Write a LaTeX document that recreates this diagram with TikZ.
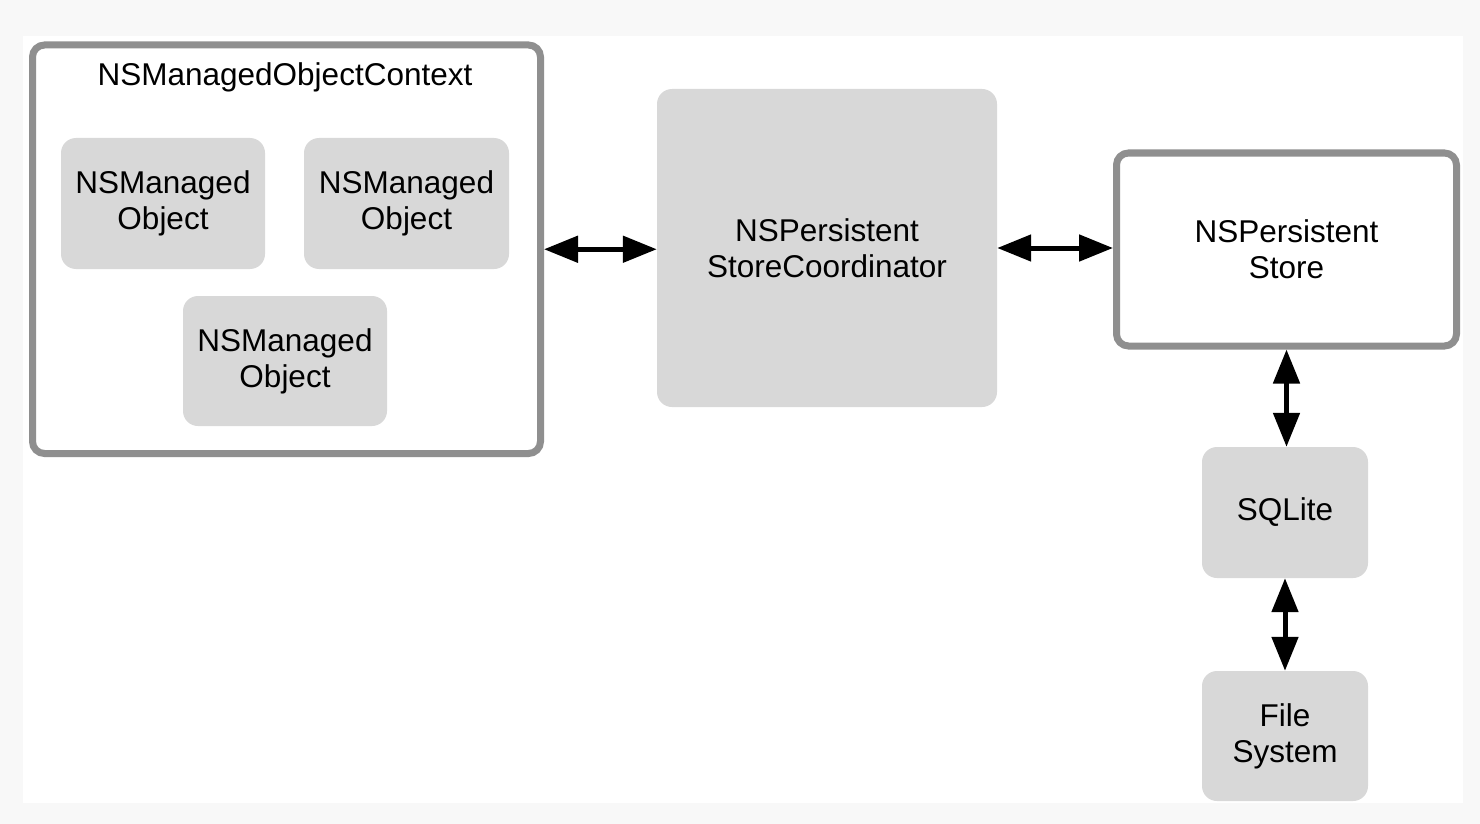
\documentclass[tikz,border=0pt]{standalone}
\usepackage{fontspec}
\setmainfont{Liberation Sans}
\usetikzlibrary{arrows.meta}
\definecolor{boxgray}{HTML}{D8D8D8}
\definecolor{bordergray}{HTML}{8F8F8F}
\definecolor{bggray}{HTML}{F8F8F8}
\tikzset{
  txt/.style={font=\fontsize{31.5}{36}\selectfont, align=center, text=black},
  graybox/.style={txt, rectangle, fill=boxgray, draw=none, rounded corners=15pt, inner sep=0pt},
  framebox/.style={txt, rectangle, fill=white, draw=bordergray, line width=7pt, rounded corners=12pt, inner sep=0pt},
  arr/.style={line width=5pt, {Triangle[length=34pt,width=26pt]}-{Triangle[length=34pt,width=26pt]}}
}
\begin{document}
\begin{tikzpicture}[x=1pt,y=-1pt]
  \fill[bggray] (0,0) rectangle (1480,824);
  \fill[white] (23,36) rectangle (1463,803);
  \useasboundingbox (0,0) rectangle (1480,824);

  \node[framebox, minimum width=508pt, minimum height=408.5pt] (ctx) at (286.5,249.25) {};
  \node[txt, anchor=base] (title) at (285,86) {NSManagedObjectContext};
  \node[graybox, minimum width=204pt, minimum height=131pt] (mo1) at (163,203.5) {NSManaged\\Object};
  \node[graybox, minimum width=205pt, minimum height=131pt] (mo2) at (406.5,203.5) {NSManaged\\Object};
  \node[graybox, minimum width=204pt, minimum height=130pt] (mo3) at (285,361) {NSManaged\\Object};

  \node[graybox, minimum width=340pt, minimum height=318pt] (psc) at (827,248) {NSPersistent\\StoreCoordinator};

  \node[framebox, minimum width=340pt, minimum height=193pt] (ps) at (1286.5,249.5) {NSPersistent\\Store};
  \node[graybox, minimum width=166pt, minimum height=131pt] (sql) at (1285,512.5) {SQLite};
  \node[graybox, minimum width=166pt, minimum height=130pt] (fs) at (1285,736) {File\\System};

  \draw[arr] (ctx.east) -- (ctx.east -| psc.west);
  \draw[arr] (psc.east) -- (psc.east -| ps.west);
  \draw[arr] (ps.south) -- (ps.south |- sql.north);
  \draw[arr] (sql.south) -- (sql.south |- fs.north);
\end{tikzpicture}
\end{document}
